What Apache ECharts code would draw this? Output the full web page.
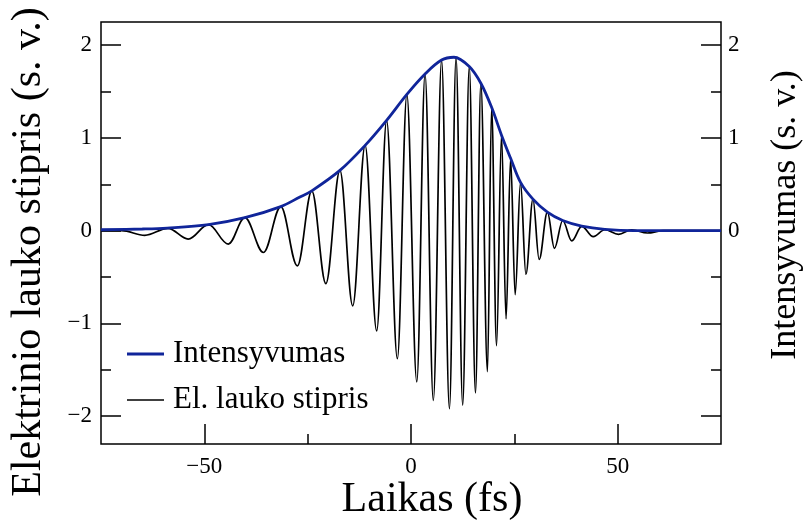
<!DOCTYPE html>
<html>
<head>
<meta charset="utf-8">
<script src="https://cdn.jsdelivr.net/npm/echarts@6/dist/echarts.min.js"></script>
<style>
html,body{margin:0;padding:0;background:#fff;}
#c{width:808px;height:527px;}
</style>
</head>
<body>
<div id="c"></div>
<script>
// Electric field: extrema (time in fs, value in a.u.)
const fieldT = [-75, -70, -64.4, -58.8, -53.9, -49.0, -44.2, -40.2, -35.7, -31.5, -27.5, -24.0, -20.6, -17.2, -14.1, -11.1, -8.3, -5.9, -3.3, -1.0, 1.4, 3.4, 5.4, 7.4, 9.3, 10.9, 12.5, 14.1, 15.6, 16.9, 18.5, 19.5, 20.7, 21.9, 23.0, 24.1, 25.2, 26.5, 27.8, 29.5, 31.0, 33.0, 34.7, 36.7, 38.9, 41.3, 44.1, 46.9, 50.2, 53.4, 57.2, 61, 75];
const fieldV = [0, 0, -0.05, 0.025, -0.09, 0.065, -0.144, 0.14, -0.235, 0.26, -0.38, 0.43, -0.57, 0.65, -0.81, 0.92, -1.08, 1.19, -1.38, 1.47, -1.63, 1.69, -1.83, 1.84, -1.92, 1.87, -1.88, 1.77, -1.75, 1.59, -1.52, 1.33, -1.24, 1.03, -0.95, 0.78, -0.69, 0.52, -0.47, 0.34, -0.31, 0.2, -0.19, 0.11, -0.11, 0.047, -0.065, 0.01, -0.04, 0.01, -0.025, 0, 0];

// Intensity envelope
const envT = [-75, -65, -59, -49, -40.2, -31.5, -27, -24, -17.2, -11.1, -5.9, -1, 3.4, 7.4, 10.4, 14.1, 16.9, 19.5, 21.9, 24.1, 26.5, 29.5, 33, 36.7, 41.3, 46.9, 54, 75];
const envV = [0.01, 0.018, 0.028, 0.065, 0.14, 0.26, 0.36, 0.43, 0.65, 0.92, 1.19, 1.47, 1.69, 1.84, 1.87, 1.77, 1.59, 1.33, 1.03, 0.78, 0.52, 0.34, 0.2, 0.11, 0.05, 0.015, 0, 0];

const xMajor = [-50, 0, 50];
const xMinor = [-25, 25];
const yMajor = [-2, -1, 0, 1, 2];
const yMinor = [-1.5, -0.5, 0.5, 1.5];
const yRightLabels = [0, 1, 2];
const legendNames = ['Intensyvumas', 'El. lauko stipris'];

const FONT = 'Liberation Serif';
const BLUE = '#10259a';
const fmt = v => (v < 0 ? '\u2212' + Math.abs(v) : String(v));

const fieldData = fieldT.map((t, i) => [t, fieldV[i]]);
const envData = envT.map((t, i) => [t, envV[i]]);

const chart = echarts.init(document.getElementById('c'), null, {renderer: 'canvas'});

const tickStyle = {color: '#000', width: 1.5};
const X_MIN = -75, X_MAX = 75, Y_MIN = -2.3, Y_MAX = 2.25;

function xAx(custom, len, labels) {
  return {
    type: 'value', min: X_MIN, max: X_MAX, position: 'bottom',
    axisLine: {show: false, onZero: false},
    splitLine: {show: false},
    axisTick: {show: true, inside: true, length: len, customValues: custom, lineStyle: tickStyle},
    axisLabel: labels ? {show: true, customValues: labels, formatter: fmt, color: '#000',
      fontFamily: FONT, fontSize: 23, margin: 11} : {show: false}
  };
}
function yAx(pos, custom, len, labels, margin) {
  return {
    type: 'value', min: Y_MIN, max: Y_MAX, position: pos,
    axisLine: {show: false, onZero: false},
    splitLine: {show: false},
    axisTick: {show: true, inside: true, length: len, customValues: custom, lineStyle: tickStyle},
    axisLabel: labels ? {show: true, customValues: labels, formatter: fmt, color: '#000',
      fontFamily: FONT, fontSize: 23, margin: margin} : {show: false}
  };
}

chart.setOption({
  animation: false,
  backgroundColor: '#fff',
  grid: {left: 101, right: 87, top: 22, bottom: 83, show: true, borderColor: '#000', borderWidth: 1.5, backgroundColor: 'transparent'},
  xAxis: [xAx(xMajor, 20, xMajor), xAx(xMinor, 10, null)],
  yAxis: [
    yAx('left', yMajor, 20, yMajor, 9),
    yAx('right', yMajor, 20, yRightLabels, 7),
    yAx('left', yMinor, 10, null, 0),
    yAx('right', yMinor, 10, null, 0)
  ],
  series: [
    {
      name: legendNames[1], type: 'line', data: fieldData,
      xAxisIndex: 0, yAxisIndex: 0,
      symbol: 'none', smooth: 0.36, smoothMonotone: 'x',
      lineStyle: {color: '#000', width: 1.7},
      itemStyle: {color: '#000'}, z: 2
    },
    {
      name: legendNames[0], type: 'line', data: envData,
      xAxisIndex: 0, yAxisIndex: 1,
      symbol: 'none', smooth: 0.35,
      lineStyle: {color: BLUE, width: 2.8},
      itemStyle: {color: BLUE}, z: 3
    }
  ],
  graphic: [
    {type: 'text', x: 29, y: 252, rotation: Math.PI / 2,
      style: {text: 'Elektrinio lauko stipris (s. v.)', fontFamily: FONT, fontSize: 42, fill: '#000', align: 'center', verticalAlign: 'middle'}},
    {type: 'text', x: 786, y: 215, rotation: Math.PI / 2,
      style: {text: 'Intensyvumas (s. v.)', fontFamily: FONT, fontSize: 36, fill: '#000', align: 'center', verticalAlign: 'middle'}},
    {type: 'text', x: 432, y: 500,
      style: {text: 'Laikas (fs)', fontFamily: FONT, fontSize: 42, fill: '#000', align: 'center', verticalAlign: 'middle'}},
    // legend
    {type: 'line', shape: {x1: 127, y1: 354, x2: 164, y2: 354}, style: {stroke: BLUE, lineWidth: 3}},
    {type: 'text', x: 173, y: 354, style: {text: legendNames[0], fontFamily: FONT, fontSize: 31, fill: '#000', align: 'left', verticalAlign: 'middle'}},
    {type: 'line', shape: {x1: 127, y1: 400, x2: 164, y2: 400}, style: {stroke: '#000', lineWidth: 1.5}},
    {type: 'text', x: 173, y: 400, style: {text: legendNames[1], fontFamily: FONT, fontSize: 31, fill: '#000', align: 'left', verticalAlign: 'middle'}}
  ]
});
</script>
</body>
</html>
